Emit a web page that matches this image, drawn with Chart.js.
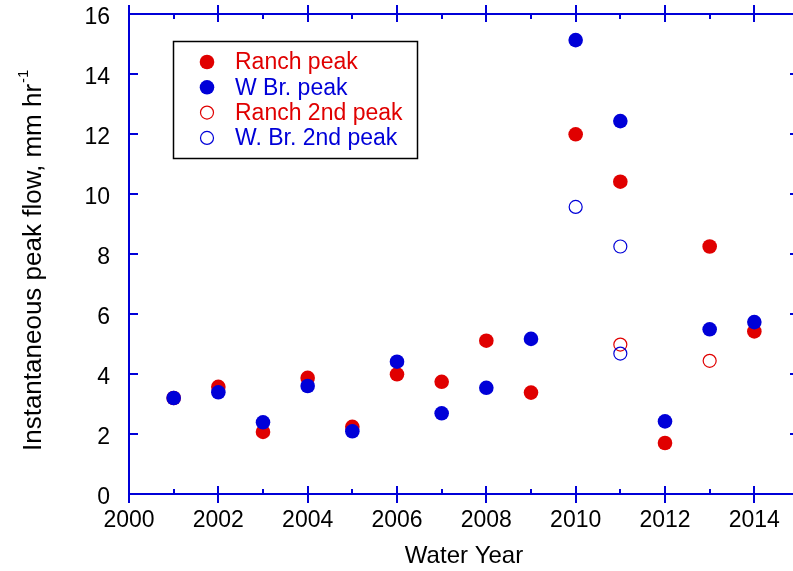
<!DOCTYPE html>
<html>
<head>
<meta charset="utf-8">
<script src="https://cdn.jsdelivr.net/npm/chart.js@4"></script>
<style>
  html, body { margin: 0; padding: 0; background: #fff; overflow: hidden; }
  #wrap { width: 793px; height: 571px; overflow: hidden; }
</style>
</head>
<body>
<div id="wrap"><canvas id="grafica" width="800" height="571"></canvas></div>
<script>
// datos
const years = [2001, 2002, 2003, 2004, 2005, 2006, 2007, 2008, 2009, 2010, 2011, 2012, 2013, 2014];
const ranchPeak = [3.2, 3.57, 2.07, 3.87, 2.24, 3.99, 3.74, 5.11, 3.38, 11.99, 10.41, 1.7, 8.25, 5.42];
const wbrPeak = [3.2, 3.39, 2.39, 3.6, 2.09, 4.41, 2.69, 3.54, 5.17, 15.13, 12.43, 2.42, 5.49, 5.73];
const ranch2Years = [2011, 2013];
const ranch2Peak = [4.98, 4.44];
const wbr2Years = [2010, 2011, 2011];
const wbr2Peak = [9.57, 8.25, 4.68];
const xTicks = [2000, 2002, 2004, 2006, 2008, 2010, 2012, 2014];
const yTicks = [0, 2, 4, 6, 8, 10, 12, 14, 16];

const RED = "#e00000";
const BLUE = "#0000d8";
const FONT = "'Liberation Sans', Arial, sans-serif";

const pts = (xs, ys) => xs.map((x, i) => ({ x: x, y: ys[i] }));

// quita el relleno que chart.js agrega por las etiquetas
const sinRelleno = (s) => {
  s.paddingTop = 0; s.paddingBottom = 0; s.paddingLeft = 0; s.paddingRight = 0;
};

// ejes tipo caja con ticks mayores y menores
const ejes = {
  id: "ejes",
  afterDraw(chart) {
    const ctx = chart.ctx;
    const { left, right, top, bottom } = chart.chartArea;
    const sx = chart.scales.x, sy = chart.scales.y;
    ctx.save();
    ctx.strokeStyle = BLUE;
    ctx.lineWidth = 2;
    ctx.strokeRect(left, top, right - left, bottom - top);
    ctx.beginPath();
    for (let v = 2000; v <= 2015; v++) {
      const px = Math.round(sx.getPixelForValue(v));
      if (v % 2 === 0) {
        ctx.moveTo(px, bottom - 8); ctx.lineTo(px, bottom + 9);
        ctx.moveTo(px, top - 9); ctx.lineTo(px, top + 8);
      } else {
        ctx.moveTo(px, bottom - 5); ctx.lineTo(px, bottom);
        ctx.moveTo(px, top); ctx.lineTo(px, top + 5);
      }
    }
    yTicks.forEach((v) => {
      const py = Math.round(sy.getPixelForValue(v));
      ctx.moveTo(left, py); ctx.lineTo(left + 9, py);
      ctx.moveTo(right, py); ctx.lineTo(right - 9, py);
    });
    ctx.stroke();

    // titulo del eje y con superindice
    ctx.fillStyle = "#000";
    ctx.translate(41, 451);
    ctx.rotate(-Math.PI / 2);
    ctx.textAlign = "left";
    ctx.textBaseline = "alphabetic";
    ctx.font = "26px " + FONT;
    const main = "Instantaneous peak flow, mm hr";
    ctx.fillText(main, 0, 0);
    const w = ctx.measureText(main).width;
    ctx.font = "15px " + FONT;
    ctx.fillText("-1", w + 1, -13);
    ctx.restore();

    // leyenda
    ctx.save();
    ctx.strokeStyle = "#000";
    ctx.lineWidth = 1.5;
    ctx.strokeRect(173.5, 41.5, 244, 117);
    const rows = [
      { t: "Ranch peak", c: RED, fill: true },
      { t: "W Br. peak", c: BLUE, fill: true },
      { t: "Ranch 2nd peak", c: RED, fill: false },
      { t: "W. Br. 2nd peak", c: BLUE, fill: false },
    ];
    ctx.font = "23px " + FONT;
    ctx.textBaseline = "middle";
    rows.forEach((r, i) => {
      const y = 62 + i * 25.3;
      ctx.beginPath();
      if (r.fill) {
        ctx.arc(207, y, 7.3, 0, Math.PI * 2);
        ctx.fillStyle = r.c;
        ctx.fill();
      } else {
        ctx.arc(207, y, 6.5, 0, Math.PI * 2);
        ctx.strokeStyle = r.c;
        ctx.lineWidth = 1.2;
        ctx.stroke();
      }
      ctx.fillStyle = r.c;
      ctx.fillText(r.t, 235, y + 1);
    });
    ctx.restore();
  },
};

const data = {
  datasets: [
    {
      label: "Ranch peak",
      data: pts(years, ranchPeak),
      backgroundColor: RED,
      borderWidth: 0,
      pointRadius: 7.3,
      order: 4,
    },
    {
      label: "W Br. peak",
      data: pts(years, wbrPeak),
      backgroundColor: BLUE,
      borderWidth: 0,
      pointRadius: 7.3,
      order: 3,
    },
    {
      label: "Ranch 2nd peak",
      data: pts(ranch2Years, ranch2Peak),
      backgroundColor: "rgba(0,0,0,0)",
      borderColor: RED,
      borderWidth: 1.2,
      pointRadius: 6.5,
      order: 2,
    },
    {
      label: "W. Br. 2nd peak",
      data: pts(wbr2Years, wbr2Peak),
      backgroundColor: "rgba(0,0,0,0)",
      borderColor: BLUE,
      borderWidth: 1.2,
      pointRadius: 6.5,
      order: 1,
    },
  ],
};

const config = {
  type: "scatter",
  data: data,
  options: {
    responsive: false,
    animation: false,
    layout: { autoPadding: false, padding: { left: 0, right: 1, top: 14, bottom: 0 } },
    plugins: { legend: { display: false }, tooltip: { enabled: false } },
    scales: {
      x: {
        type: "linear",
        min: 2000,
        max: 2015,
        afterBuildTicks: (s) => { s.ticks = xTicks.map((v) => ({ value: v })); },
        afterFit: (s) => { s.height = 77; sinRelleno(s); },
        grid: { display: false, drawTicks: false },
        border: { display: false },
        ticks: {
          color: "#000",
          padding: 13,
          maxRotation: 0,
          font: { family: FONT, size: 23 },
          callback: (v) => String(v),
        },
        title: {
          display: true,
          text: "Water Year",
          color: "#000",
          padding: { top: 0, bottom: 0 },
          font: { family: FONT, size: 24 },
        },
      },
      y: {
        min: 0,
        max: 16,
        afterBuildTicks: (s) => { s.ticks = yTicks.map((v) => ({ value: v })); },
        afterFit: (s) => { s.width = 129; sinRelleno(s); },
        grid: { display: false, drawTicks: false },
        border: { display: false },
        ticks: {
          color: "#000",
          padding: 19,
          labelOffset: 4,
          font: { family: FONT, size: 23 },
        },
      },
    },
  },
  plugins: [ejes],
};

new Chart(document.getElementById("grafica"), config);
</script>
</body>
</html>
